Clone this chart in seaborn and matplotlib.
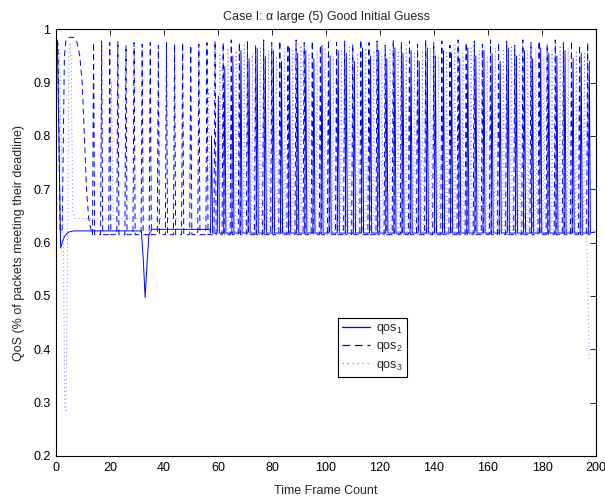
import matplotlib
matplotlib.use("Agg")
import matplotlib.pyplot as plt
from matplotlib.lines import Line2D
import pandas as pd
import seaborn as sns

# ---------------- data (time frame, QoS) ----------------
# qos1: start-up transient, flat plateau with a dip near frame 33, then periodic spikes
qos1_lead_t = [0.5, 1.7, 2.3, 3.0, 3.8, 4.8, 6.5, 31.6, 32.3, 33.0, 33.7, 34.4, 35.5, 57.0]
qos1_lead_v = [0.980, 0.590, 0.600, 0.610, 0.616, 0.620, 0.622, 0.622, 0.570, 0.497, 0.560, 0.615, 0.625, 0.625]
qos1_peak_t = [57.6, 60.1, 62.5, 65.5, 68.5, 71.5, 74.5, 77.5, 80.5, 83.5,
               86.5, 89.5, 92.5, 95.5, 98.5, 101.5, 104.5, 107.5, 110.5, 113.5,
               116.5, 119.5, 122.5, 125.5, 128.5, 131.5, 134.5, 137.5, 140.5, 143.5,
               146.5, 149.5, 152.5, 155.5, 158.5, 161.5, 164.5, 167.5, 170.5, 173.5,
               176.5, 179.5, 182.5, 185.5, 188.5, 191.5, 194.5, 197.5]
qos1_peak_v = [0.800, 0.875, 0.930, 0.950, 0.960, 0.945, 0.965, 0.950, 0.960, 0.940,
               0.965, 0.955, 0.960, 0.945, 0.970, 0.950, 0.960, 0.955, 0.940, 0.965,
               0.950, 0.960, 0.945, 0.965, 0.955, 0.960, 0.940, 0.965, 0.950, 0.960,
               0.955, 0.945, 0.965, 0.950, 0.960, 0.955, 0.940, 0.965, 0.950, 0.960,
               0.945, 0.965, 0.955, 0.950, 0.960, 0.945, 0.955, 0.940]
qos1_trough = 0.618
qos1_tail_t = [199.6]
qos1_tail_v = [0.620]

# qos2: early dome, then spikes every three frames
qos2_lead_t = [0.0, 0.7, 1.5, 2.3, 3.1, 3.7, 5.0, 6.5, 7.8, 8.8, 9.7, 10.5, 11.3, 12.1, 12.8]
qos2_lead_v = [0.980, 0.975, 0.620, 0.625, 0.950, 0.980, 0.985, 0.985, 0.975, 0.950,
               0.900, 0.800, 0.700, 0.645, 0.628]
qos2_peak_t = [13.9, 16.9, 19.9, 22.9, 25.9, 28.9, 31.9, 34.9, 37.9, 40.9,
               43.9, 46.9, 49.9, 52.9, 55.9, 58.9, 61.9, 64.9, 67.9, 70.9,
               73.9, 76.9, 79.9, 82.9, 85.9, 88.9, 91.9, 94.9, 97.9, 100.9,
               103.9, 106.9, 109.9, 112.9, 115.9, 118.9, 121.9, 124.9, 127.9, 130.9,
               133.9, 136.9, 139.9, 142.9, 145.9, 148.9, 151.9, 154.9, 157.9, 160.9,
               163.9, 166.9, 169.9, 172.9, 175.9, 178.9, 181.9, 184.9, 187.9, 190.9,
               193.9, 196.9]
qos2_peak_v = [0.975, 0.978, 0.975, 0.978, 0.970, 0.975, 0.972, 0.975, 0.970, 0.975,
               0.972, 0.975, 0.970, 0.972, 0.975, 0.978, 0.975, 0.980, 0.975, 0.978,
               0.970, 0.980, 0.975, 0.978, 0.972, 0.980, 0.975, 0.978, 0.970, 0.980,
               0.975, 0.978, 0.972, 0.980, 0.975, 0.978, 0.970, 0.980, 0.975, 0.978,
               0.972, 0.980, 0.975, 0.978, 0.970, 0.980, 0.975, 0.978, 0.972, 0.980,
               0.975, 0.978, 0.970, 0.980, 0.975, 0.978, 0.972, 0.980, 0.975, 0.978,
               0.970, 0.975]
qos2_trough = 0.615
qos2_tail_t = [199.6]
qos2_tail_v = [0.620]

# qos3: deep initial undershoot, long plateau, spikes, final drop
qos3_lead_t = [0.0, 1.2, 2.7, 3.2, 3.7, 4.3, 4.8, 5.2, 5.6, 6.2, 7.0,
               19.8, 20.5, 21.2, 55.8, 56.5, 57.2]
qos3_lead_v = [0.975, 0.970, 0.600, 0.290, 0.285, 0.620, 0.950, 0.975, 0.940, 0.660, 0.645,
               0.645, 0.900, 0.645, 0.645, 0.890, 0.640]
qos3_peak_t = [60.7, 63.7, 66.7, 69.7, 72.7, 75.7, 78.7, 81.7, 84.7, 87.7,
               90.7, 93.7, 96.7, 99.7, 102.7, 105.7, 108.7, 111.7, 114.7, 117.7,
               120.7, 123.7, 126.7, 129.7, 132.7, 135.7, 138.7, 141.7, 144.7, 147.7,
               150.7, 153.7, 156.7, 159.7, 162.7, 165.7, 168.7, 171.7, 174.7, 177.7,
               180.7, 183.7, 186.7, 189.7, 192.7, 195.7]
qos3_peak_v = [0.955, 0.965, 0.960, 0.970, 0.955, 0.965, 0.960, 0.950, 0.965, 0.960,
               0.970, 0.955, 0.960, 0.965, 0.950, 0.960, 0.970, 0.955, 0.965, 0.960,
               0.950, 0.965, 0.960, 0.970, 0.955, 0.960, 0.965, 0.950, 0.960, 0.970,
               0.955, 0.965, 0.960, 0.950, 0.965, 0.960, 0.970, 0.955, 0.960, 0.965,
               0.950, 0.960, 0.970, 0.965, 0.960, 0.955]
qos3_trough = 0.615
qos3_tail_t = [196.5, 197.5]
qos3_tail_v = [0.620, 0.380]

series_names = ["qos1", "qos2", "qos3"]
legend_labels = [r"qos$_{1}$", r"qos$_{2}$", r"qos$_{3}$"]
x_ticks = [0, 20, 40, 60, 80, 100, 120, 140, 160, 180, 200]
y_ticks = [0.2, 0.3, 0.4, 0.5, 0.6, 0.7, 0.8, 0.9, 1.0]
y_tick_labels = ["0.2", "0.3", "0.4", "0.5", "0.6", "0.7", "0.8", "0.9", "1"]

# half-width (in frames) of each narrow spike at its base
SPIKE_HALF = 0.4

colors = {"qos1": "#0000ff", "qos2": "#0000ff", "qos3": "#7a7aff"}
dash_styles = {"qos1": "", "qos2": (6, 4), "qos3": (1, 3)}
LW = 0.7


def trace(lead_t, lead_v, peak_t, peak_v, trough, tail_t, tail_v):
    t, v = list(lead_t), list(lead_v)
    for c, p in zip(peak_t, peak_v):
        t += [c - SPIKE_HALF, c, c + SPIKE_HALF]
        v += [trough, p, trough]
    return t + list(tail_t), v + list(tail_v)


frames = []
for name, args in [
    ("qos1", (qos1_lead_t, qos1_lead_v, qos1_peak_t, qos1_peak_v, qos1_trough, qos1_tail_t, qos1_tail_v)),
    ("qos2", (qos2_lead_t, qos2_lead_v, qos2_peak_t, qos2_peak_v, qos2_trough, qos2_tail_t, qos2_tail_v)),
    ("qos3", (qos3_lead_t, qos3_lead_v, qos3_peak_t, qos3_peak_v, qos3_trough, qos3_tail_t, qos3_tail_v)),
]:
    t, v = trace(*args)
    frames.append(pd.DataFrame({"frame": t, "qos": v, "series": name}))
df = pd.concat(frames, ignore_index=True)

# ---------------- styling ----------------
sns.set_style("white")
plt.rcParams["font.family"] = ["Liberation Sans", "DejaVu Sans"]
plt.rcParams["mathtext.fontset"] = "custom"
plt.rcParams["mathtext.rm"] = "Liberation Sans"
plt.rcParams["mathtext.it"] = "Liberation Sans:italic"
plt.rcParams["font.size"] = 9

fig = plt.figure(figsize=(6.05, 5.0), dpi=100)
ax = fig.add_axes([0.0926, 0.088, 0.8926, 0.8534])

sns.lineplot(
    data=df, x="frame", y="qos",
    hue="series", style="series",
    hue_order=series_names, style_order=series_names,
    palette=colors, dashes=dash_styles,
    estimator=None, sort=False, linewidth=LW, legend=False, ax=ax,
)

ax.set_xlim(0, 200)
ax.set_ylim(0.2, 1.0)
ax.set_xticks(x_ticks)
ax.set_xticklabels([str(x) for x in x_ticks])
ax.set_yticks(y_ticks)
ax.set_yticklabels(y_tick_labels)
ax.tick_params(direction="in", top=True, right=True, length=4.5, width=0.6,
               labelsize=9, pad=4, colors="black")
for s in ax.spines.values():
    s.set_visible(True)
    s.set_color("black")
    s.set_linewidth(0.8)

ax.set_title("Case I: \u03b1 large (5) Good Initial Guess", fontsize=9, pad=7)
ax.set_xlabel("Time Frame Count", fontsize=9, labelpad=8)
ax.set_ylabel("QoS (% of packets meeting their deadline)", fontsize=9, labelpad=6)

handles = []
for name in series_names:
    h = Line2D([], [], color=colors[name], linewidth=0.9)
    if dash_styles[name]:
        h.set_dashes(dash_styles[name])
    handles.append(h)

leg = ax.legend(
    handles=handles, labels=legend_labels,
    loc="lower left", bbox_to_anchor=(0.522, 0.185), borderaxespad=0,
    fancybox=False, edgecolor="black", framealpha=1, fontsize=9,
    handlelength=2.2, handletextpad=0.5, labelspacing=0.35, borderpad=0.35,
)
leg.get_frame().set_linewidth(0.8)

fig.savefig("out.png", dpi=100)
